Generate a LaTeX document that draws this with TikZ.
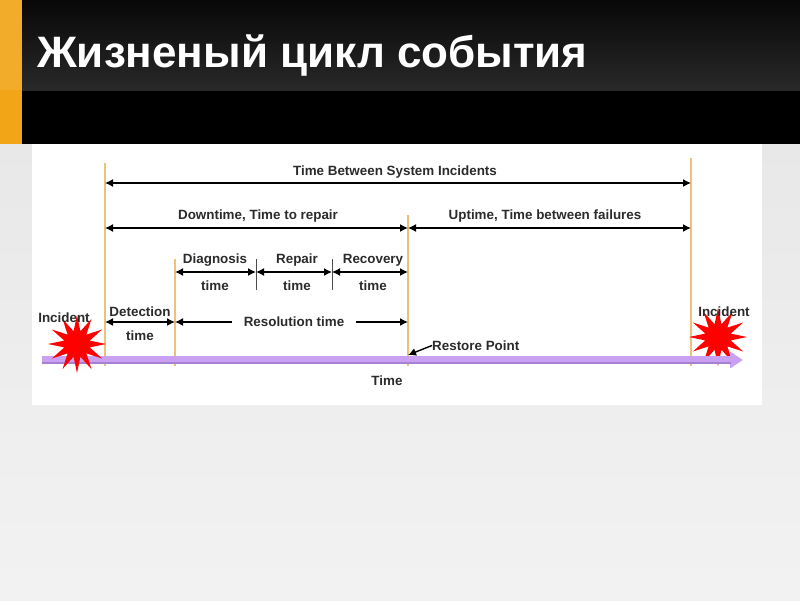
\documentclass[tikz,border=0pt]{standalone}
\usepackage{fontspec}
\setmainfont{Liberation Sans}
\usetikzlibrary{positioning, arrows.meta, shapes.geometric}

\definecolor{slideorange}{HTML}{F2A516}
\definecolor{lineorange}{HTML}{EFC07A}
\definecolor{barviolet}{HTML}{C9A0F2}
\definecolor{bardark}{HTML}{A77FD3}
\definecolor{inkgray}{HTML}{2B2B2B}

\begin{document}
\begin{tikzpicture}[
    x=1pt, y=-1pt,
    marker/.style={
        draw=lineorange,
        line width=1.5pt
    },
    tick/.style={
        draw=black!70,
        line width=1pt
    },
    span/.style={
        {Latex[length=8pt,width=8pt]}-{Latex[length=8pt,width=8pt]},
        line width=1.4pt,
        black
    },
    label/.style={
        font=\fontsize{13.4}{15}\selectfont\bfseries,
        text=inkgray,
        inner sep=0pt,
        yshift=-1.5pt
    },
    burst/.style={
        star,
        star points=12,
        star point ratio=2.2,
        fill=red,
        minimum size=58pt,
        inner sep=0pt
    }
]
\useasboundingbox (0,0) rectangle (800,600);

% slide background
\fill[top color=black!9, bottom color=black!5] (0,144) rectangle (800,600);
\fill[white] (32,144) rectangle (762,405);
\fill[black] (0,0) rectangle (800,144);
\fill[top color=black!97, bottom color=black!84] (22,0) rectangle (800,90);
\fill[slideorange] (0,0) rectangle (22,144);
\fill[slideorange!92!white] (0,0) rectangle (22,90);

\node[anchor=west, inner sep=0pt, text=white,
    font=\fontsize{44}{48}\selectfont\bfseries] (title) at (37,56)
    {Жизненый цикл события};

% markers
\coordinate (start top) at (105,163);
\coordinate (start low) at (105,366);
\coordinate (detect top) at (175,259);
\coordinate (detect low) at (175,366);
\coordinate (restore top) at (408,215);
\coordinate (restore low) at (408,366);
\coordinate (next top) at (691,158);
\coordinate (next low) at (691,366);
\coordinate (repair top) at (256,259);
\coordinate (repair low) at (256,290);
\coordinate (recovery top) at (332,259);
\coordinate (recovery low) at (332,290);

\draw[marker] (start top) -- (start low);
\draw[marker] (detect top) -- (detect low);
\draw[marker] (restore top) -- (restore low);
\draw[marker] (next top) -- (next low);
\draw[tick] (repair top) -- (repair low);
\draw[tick] (recovery top) -- (recovery low);

% second incident sits behind the bar
\node[burst] (incident right) at (718,337) {};

\coordinate (bar start) at (42,360);
\coordinate (bar end) at (743,360);
\draw[barviolet, line width=8pt, -{Triangle[length=13pt,width=16pt]}]
    (bar start) -- (bar end);
\draw[bardark, line width=2.5pt] (42,363) -- (731,363);

\node[burst] (incident left) at (77,344) {};

% spans
\coordinate (row a left) at (105,183);
\coordinate (row a right) at (691,183);
\coordinate (row b left) at (105,228);
\coordinate (row b mid) at (408,228);
\coordinate (row b right) at (691,228);
\coordinate (row c left) at (175,272);
\coordinate (row c one) at (256,272);
\coordinate (row c two) at (332,272);
\coordinate (row c right) at (408,272);
\coordinate (row d left) at (105,322);
\coordinate (row d one) at (175,322);
\coordinate (row d right) at (408,322);

\draw[span] (row a left) -- (row a right);
\draw[span] (row b left) -- (row b mid);
\draw[span] (row b mid) -- (row b right);
\draw[span] (row c left) -- (row c one);
\draw[span] (row c one) -- (row c two);
\draw[span] (row c two) -- (row c right);
\draw[span] (row d left) -- (row d one);
\draw[span] (row d one) -- (row d right);

% labels
\node[label] (between) at (395,171) {Time Between System Incidents};
\node[label] (downtime) at (258,215) {Downtime, Time to repair};
\node[label] (uptime) at (545,215) {Uptime, Time between failures};
\node[label] (diagnosis) at (215,259) {Diagnosis};
\node[label] (diagnosis time) at (215,284) {time};
\node[label] (repair) at (297,259) {Repair};
\node[label] (repair time) at (297,284) {time};
\node[label] (recovery) at (373,259) {Recovery};
\node[label] (recovery time) at (373,284) {time};
\node[label] (detection) at (140,310) {Detection};
\node[label] (detection time) at (140,334) {time};
\node[label, fill=white, inner xsep=12pt, inner ysep=3pt, yshift=1.5pt] (resolution) at (294,322) {Resolution time};
\node[label] (incident a) at (64,316) {Incident};
\node[label] (incident b) at (724,310) {Incident};
\node[label, anchor=west] (restore) at (432,344) {Restore Point};
\node[label] (time) at (387,379) {Time};

\draw[-{Latex[length=8pt,width=8pt]}, line width=1.4pt] (restore.west) -- (restore low |- 0,355);

\end{tikzpicture}
\end{document}
